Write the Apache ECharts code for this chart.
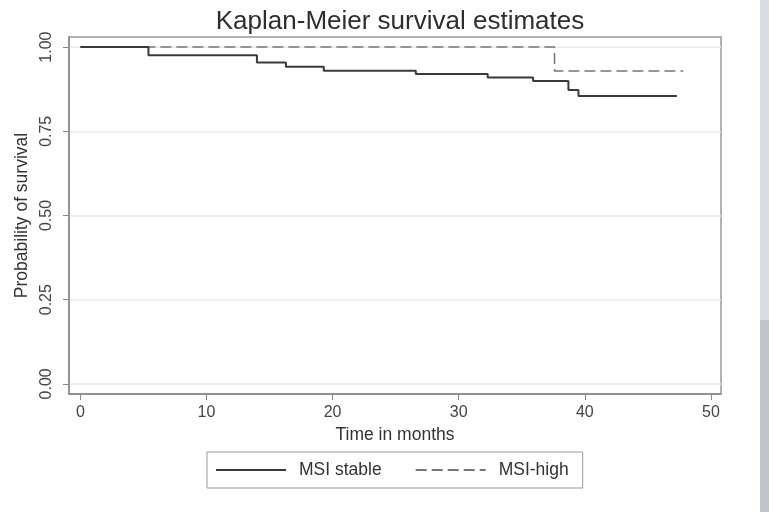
<!DOCTYPE html>
<html>
<head>
<meta charset="utf-8">
<script src="https://cdn.jsdelivr.net/npm/echarts@6/dist/echarts.min.js"></script>
<style>
html,body{margin:0;padding:0;background:#ffffff;}
#chart{width:769px;height:512px;}
</style>
</head>
<body>
<div id="chart"></div>
<script>
// ---- data ----
var stableTime = [0, 5.4, 14.0, 16.3, 19.3, 26.6, 32.3, 35.9, 38.7, 39.5, 47.3];
var stableSurv = [1.0, 0.976, 0.954, 0.942, 0.930, 0.920, 0.910, 0.899, 0.873, 0.855, 0.855];
var highTime = [0, 37.6, 47.8];
var highSurv = [1.0, 0.929, 0.929];
var xTicks = [0, 10, 20, 30, 40, 50];
var yTicks = [0, 0.25, 0.5, 0.75, 1.0];
var seriesNames = ['MSI stable', 'MSI-high'];
var titleText = 'Kaplan-Meier survival estimates';
var xName = 'Time in months';
var yName = 'Probability of survival';

function pairs(xs, ys) { return xs.map(function (x, i) { return [x, ys[i]]; }); }

var FONT = 'Liberation Sans';
var chart = echarts.init(document.getElementById('chart'), null, { renderer: 'canvas' });
chart.setOption({
  backgroundColor: '#ffffff',
  animation: false,
  title: {
    text: titleText,
    left: 395, top: 4, textAlign: 'center',
    textStyle: { fontFamily: FONT, fontSize: 26, fontWeight: 'normal', color: '#2e2e2e' }
  },
  grid: {
    left: 69, right: 48, top: 37, bottom: 118,
    show: true, borderColor: '#999', borderWidth: 1.5, backgroundColor: '#ffffff'
  },
  xAxis: {
    type: 'value', min: -0.9, max: 50.8,
    name: xName, nameLocation: 'middle', nameGap: 29,
    nameTextStyle: { fontFamily: FONT, fontSize: 17.5, color: '#333' },
    axisLine: { show: true, onZero: false, lineStyle: { color: '#888', width: 1.5 } },
    axisTick: { show: true, inside: false, length: 6, customValues: xTicks, lineStyle: { color: '#888' } },
    axisLabel: { customValues: xTicks, margin: 11, fontFamily: FONT, fontSize: 16, color: '#444' },
    splitLine: { show: false }
  },
  yAxis: {
    type: 'value', min: -0.03, max: 1.03,
    name: yName, nameLocation: 'middle', nameGap: 31,
    nameTextStyle: { fontFamily: FONT, fontSize: 17.5, color: '#333' },
    axisLine: { show: true, onZero: false, lineStyle: { color: '#888', width: 1.5 } },
    axisTick: { show: true, inside: false, length: 6, customValues: yTicks, lineStyle: { color: '#888' } },
    axisLabel: { customValues: yTicks, rotate: 90, margin: 14, fontFamily: FONT, fontSize: 16, color: '#444',
      formatter: function (v) { return v.toFixed(2); } },
    splitLine: { show: true, lineStyle: { color: '#e8e8e8', width: 1.5 } }
  },
  legend: {
    data: seriesNames,
    left: 207, top: 452,
    orient: 'horizontal',
    padding: [9, 14, 9, 8],
    itemGap: 33,
    itemWidth: 70, itemHeight: 16,
    borderColor: '#999', borderWidth: 1,
    itemStyle: { opacity: 0 },
    textStyle: { fontFamily: FONT, fontSize: 17.5, color: '#333', padding: [0, 0, 0, 8] }
  },
  series: [
    {
      name: seriesNames[0], type: 'line', step: 'end', symbol: 'none',
      data: pairs(stableTime, stableSurv),
      lineStyle: { color: '#3a3a3a', width: 2, type: 'solid' },
      itemStyle: { color: '#3a3a3a' }, z: 3
    },
    {
      name: seriesNames[1], type: 'line', step: 'end', symbol: 'none',
      data: pairs(highTime, highSurv),
      lineStyle: { color: '#777', width: 1.5, type: [11, 5] },
      itemStyle: { color: '#777' }, z: 2
    }
  ],
  graphic: [
    { type: 'rect', shape: { x: 760, y: 0, width: 9, height: 320 }, style: { fill: '#d6dce0' }, silent: true },
    { type: 'rect', shape: { x: 760, y: 320, width: 9, height: 192 }, style: { fill: '#bdc5c9' }, silent: true }
  ]
});
</script>
</body>
</html>
